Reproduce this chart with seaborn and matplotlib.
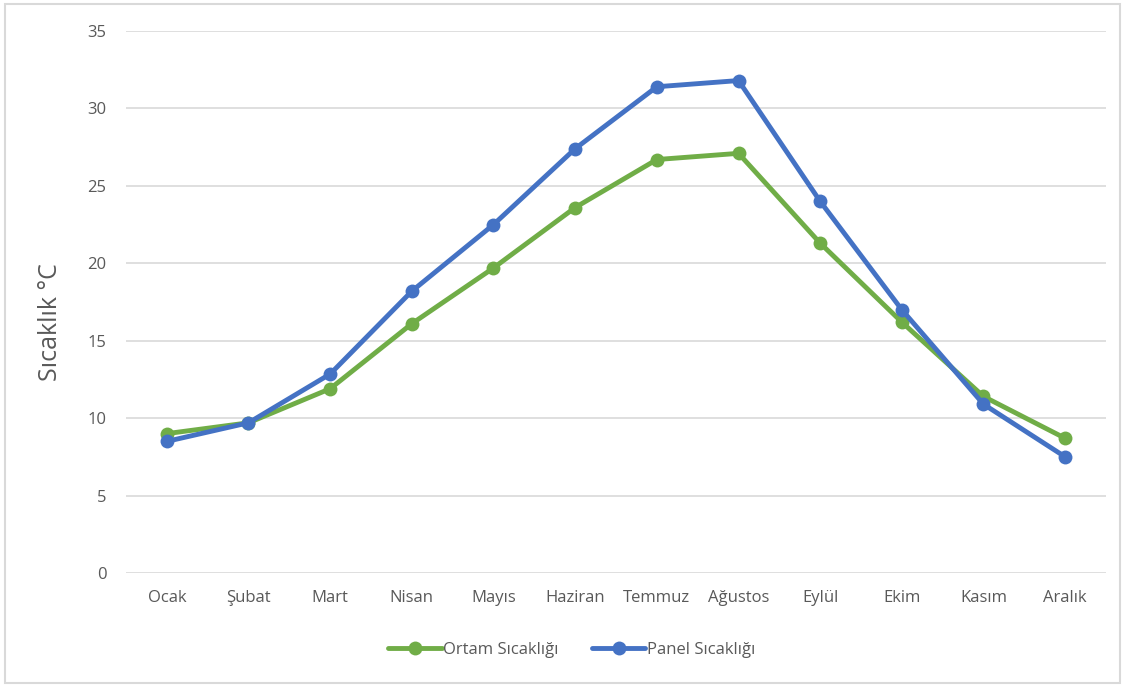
import matplotlib
matplotlib.use("Agg")
import matplotlib.pyplot as plt
from matplotlib.patches import Rectangle
import seaborn as sns
import pandas as pd

months = ["Ocak", "Şubat", "Mart", "Nisan", "Mayıs", "Haziran",
          "Temmuz", "Ağustos", "Eylül", "Ekim", "Kasım", "Aralık"]
ortam = [9.0, 9.7, 11.9, 16.1, 19.7, 23.6, 26.7, 27.1, 21.3, 16.2, 11.4, 8.7]
panel = [8.5, 9.7, 12.85, 18.2, 22.5, 27.4, 31.4, 31.8, 24.0, 17.0, 10.9, 7.5]
series_names = ["Ortam Sıcaklığı", "Panel Sıcaklığı"]
y_ticks = [0, 5, 10, 15, 20, 25, 30, 35]

df = pd.DataFrame({
    "Ay": months * 2,
    "x": list(range(len(months))) * 2,
    "Sıcaklık": ortam + panel,
    "Seri": [series_names[0]] * len(months) + [series_names[1]] * len(months),
})

sns.set_theme(style="white")
plt.rcParams["font.family"] = ["Open Sans", "DejaVu Sans"]
text_color = "#595959"

fig = plt.figure(figsize=(11.26, 6.87), dpi=100)
ax = fig.add_axes([126 / 1126, 1 - 573 / 687, 980 / 1126, 542 / 687])

palette = {series_names[0]: "#70AD47", series_names[1]: "#4472C4"}
sns.lineplot(data=df, x="x", y="Sıcaklık", hue="Seri", palette=palette,
             marker="o", markersize=10, markeredgewidth=0, linewidth=3.5,
             ax=ax, legend=True, zorder=3)

ax.set_xlim(-0.5, len(months) - 0.5)
ax.set_ylim(0, 35)
ax.set_yticks(y_ticks)
ax.set_yticklabels([str(t) for t in y_ticks], color=text_color, fontsize=12)
ax.set_xticks(range(len(months)))
ax.set_xticklabels(months, color=text_color, fontsize=12)
ax.tick_params(axis="both", length=0, pad=14)
ax.tick_params(axis="x", pad=12)
ax.grid(axis="y", color="#D9D9D9", linewidth=1.2, zorder=0)
ax.set_axisbelow(True)
for s in ax.spines.values():
    s.set_visible(False)
ax.set_xlabel("")
ax.set_ylabel("Sıcaklık °C", color=text_color, fontsize=18)
ax.yaxis.set_label_coords(-0.064, 0.463)

handles, labels = ax.get_legend_handles_labels()
ax.legend(handles, labels, loc="center", bbox_to_anchor=(0.455, -0.142),
          ncol=2, frameon=False, fontsize=12, labelcolor=text_color,
          handlelength=3.2, handletextpad=0.1, columnspacing=2.0)

fig.patches.append(Rectangle((5 / 1126, 4 / 687), 1115 / 1126, 679 / 687,
                             transform=fig.transFigure, fill=False,
                             edgecolor="#D9D9D9", linewidth=1.5))

fig.savefig("out.png", dpi=100)
